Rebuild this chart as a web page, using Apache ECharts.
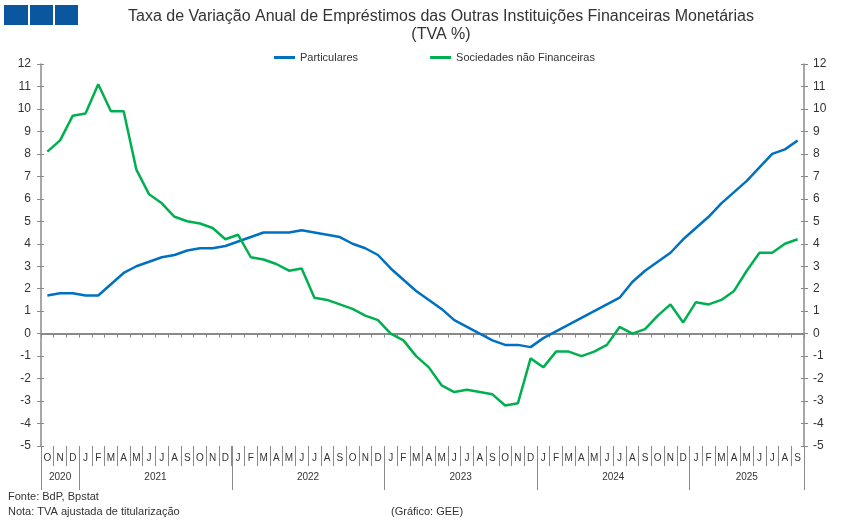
<!DOCTYPE html>
<html>
<head>
<meta charset="utf-8">
<script src="https://cdn.jsdelivr.net/npm/echarts@6/dist/echarts.min.js"></script>
<style>html,body{margin:0;padding:0;background:#fff;}#c{width:843px;height:525px;}</style>
</head>
<body>
<div id="c"></div>
<script>
// Month labels, Oct 2020 .. Sep 2025
var monthLabels = [
 'O','N','D',
 'J','F','M','A','M','J','J','A','S','O','N','D',
 'J','F','M','A','M','J','J','A','S','O','N','D',
 'J','F','M','A','M','J','J','A','S','O','N','D',
 'J','F','M','A','M','J','J','A','S','O','N','D',
 'J','F','M','A','M','J','J','A','S'
];
var yearLabels = ['2020','2021','2022','2023','2024','2025'];
var yearMonths = [3, 12, 12, 12, 12, 9];

var particulares = [
 1.7, 1.8, 1.8,
 1.7, 1.7, 2.2, 2.7, 3.0, 3.2, 3.4, 3.5, 3.7, 3.8, 3.8, 3.9,
 4.1, 4.3, 4.5, 4.5, 4.5, 4.6, 4.5, 4.4, 4.3, 4.0, 3.8, 3.5,
 2.9, 2.4, 1.9, 1.5, 1.1, 0.6, 0.3, 0.0, -0.3, -0.5, -0.5, -0.6,
 -0.2, 0.1, 0.4, 0.7, 1.0, 1.3, 1.6, 2.3, 2.8, 3.2, 3.6, 4.2,
 4.7, 5.2, 5.8, 6.3, 6.8, 7.4, 8.0, 8.2, 8.6
];
var sociedades = [
 8.1, 8.6, 9.7,
 9.8, 11.1, 9.9, 9.9, 7.3, 6.2, 5.8, 5.2, 5.0, 4.9, 4.7, 4.2,
 4.4, 3.4, 3.3, 3.1, 2.8, 2.9, 1.6, 1.5, 1.3, 1.1, 0.8, 0.6,
 0.0, -0.3, -1.0, -1.5, -2.3, -2.6, -2.5, -2.6, -2.7, -3.2, -3.1, -1.1,
 -1.5, -0.8, -0.8, -1.0, -0.8, -0.5, 0.3, 0.0, 0.2, 0.8, 1.3, 0.5,
 1.4, 1.3, 1.5, 1.9, 2.8, 3.6, 3.6, 4.0, 4.2
];
var yTicks = {min: -5, max: 12, interval: 1};

// Half-month grid for year labels and year separators
var halfCats = [];
var yearLabelIdx = {};
var yearSepIdx = {0: true};
var acc = 0;
for (var i = 0; i <= monthLabels.length * 2; i++) halfCats.push('');
for (var k = 0; k < yearLabels.length; k++) {
  yearLabelIdx[acc * 2 + yearMonths[k]] = yearLabels[k];
  halfCats[acc * 2 + yearMonths[k]] = yearLabels[k];
  acc += yearMonths[k];
  yearSepIdx[acc * 2] = true;
}

var gray = '#8a8a8a';
var txt = '#333333';
var font = 'Liberation Sans, Arial, sans-serif';

var chart = echarts.init(document.getElementById('c'));
chart.setOption({
  backgroundColor: '#ffffff',
  animation: false,
  textStyle: {fontFamily: font},
  title: [
    {
      text: 'Taxa de Variação Anual de Empréstimos das Outras Instituições Financeiras Monetárias\n(TVA %)',
      left: 441, top: 8, padding: 0, textAlign: 'center',
      textStyle: {fontSize: 16, fontWeight: 'normal', color: txt, lineHeight: 18, fontFamily: font}
    },
    {
      text: 'Fonte: BdP, Bpstat\nNota: TVA ajustada de titularização',
      left: 8, top: 489, padding: 0,
      textStyle: {fontSize: 11, fontWeight: 'normal', color: txt, lineHeight: 15, fontFamily: font}
    },
    {
      text: '(Gráfico: GEE)',
      left: 391, top: 506, padding: 0,
      textStyle: {fontSize: 11, fontWeight: 'normal', color: txt, fontFamily: font}
    }
  ],
  graphic: [
    {type: 'rect', left: 4, top: 5, shape: {width: 24, height: 20}, style: {fill: '#0a57a0'}},
    {type: 'rect', left: 30, top: 5, shape: {width: 23, height: 20}, style: {fill: '#0a57a0'}},
    {type: 'rect', left: 55, top: 5, shape: {width: 23, height: 20}, style: {fill: '#0a57a0'}}
  ],
  legend: {
    data: ['Particulares', 'Sociedades não Financeiras'],
    left: 274, top: 52, padding: 0, icon: 'rect', itemWidth: 21, itemHeight: 3, itemGap: 72,
    textStyle: {fontSize: 11, color: txt, fontFamily: font}
  },
  grid: {left: 41, right: 39, top: 64, bottom: 79, containLabel: false},
  xAxis: [
    {
      type: 'category', data: monthLabels, boundaryGap: true, position: 'bottom',
      axisLine: {show: true, onZero: true, lineStyle: {color: gray, width: 2}},
      axisTick: {show: true, interval: 0, length: 4, lineStyle: {color: gray, width: 1}},
      axisLabel: {show: false}, splitLine: {show: false}
    },
    {
      type: 'category', data: monthLabels, boundaryGap: true, position: 'bottom',
      axisLine: {show: false, onZero: false},
      axisTick: {show: true, interval: 0, length: 20, lineStyle: {color: gray, width: 1}},
      axisLabel: {show: true, interval: 0, fontSize: 10, color: txt, margin: 7, fontFamily: font},
      splitLine: {show: false}
    },
    {
      type: 'category', data: halfCats, boundaryGap: false, position: 'bottom',
      axisLine: {show: false, onZero: false},
      axisTick: {show: true, length: 44, lineStyle: {color: gray, width: 1},
        interval: function (idx) { return !!yearSepIdx[idx]; }},
      axisLabel: {show: true, fontSize: 10, color: txt, margin: 26, fontFamily: font,
        interval: function (idx) { return yearLabelIdx[idx] !== undefined; }},
      splitLine: {show: false}
    }
  ],
  yAxis: [
    {
      type: 'value', position: 'left', min: yTicks.min, max: yTicks.max, interval: yTicks.interval,
      axisLine: {show: true, onZero: false, lineStyle: {color: gray, width: 1.5}},
      axisTick: {show: true, length: 4, lineStyle: {color: gray}},
      axisLabel: {fontSize: 12, color: txt, margin: 10, fontFamily: font},
      splitLine: {show: false}
    },
    {
      type: 'value', position: 'right', min: yTicks.min, max: yTicks.max, interval: yTicks.interval,
      axisLine: {show: true, onZero: false, lineStyle: {color: gray, width: 1.5}},
      axisTick: {show: true, length: 4, lineStyle: {color: gray}},
      axisLabel: {fontSize: 12, color: txt, margin: 9, fontFamily: font},
      splitLine: {show: false}
    },
    {
      type: 'value', position: 'left', min: yTicks.min, max: yTicks.max, interval: yTicks.interval,
      axisLine: {show: false, onZero: false},
      axisTick: {show: true, inside: true, length: 3, lineStyle: {color: gray}},
      axisLabel: {show: false}, splitLine: {show: false}
    },
    {
      type: 'value', position: 'right', min: yTicks.min, max: yTicks.max, interval: yTicks.interval,
      axisLine: {show: false, onZero: false},
      axisTick: {show: true, inside: true, length: 3, lineStyle: {color: gray}},
      axisLabel: {show: false}, splitLine: {show: false}
    }
  ],
  series: [
    {
      name: 'Particulares', type: 'line', xAxisIndex: 0, yAxisIndex: 0, data: particulares,
      symbol: 'none', smooth: false, lineStyle: {color: '#0070c0', width: 2.5}, itemStyle: {color: '#0070c0'}
    },
    {
      name: 'Sociedades não Financeiras', type: 'line', xAxisIndex: 0, yAxisIndex: 0, data: sociedades,
      symbol: 'none', smooth: false, lineStyle: {color: '#00b050', width: 2.5}, itemStyle: {color: '#00b050'}
    }
  ]
});
</script>
</body>
</html>
